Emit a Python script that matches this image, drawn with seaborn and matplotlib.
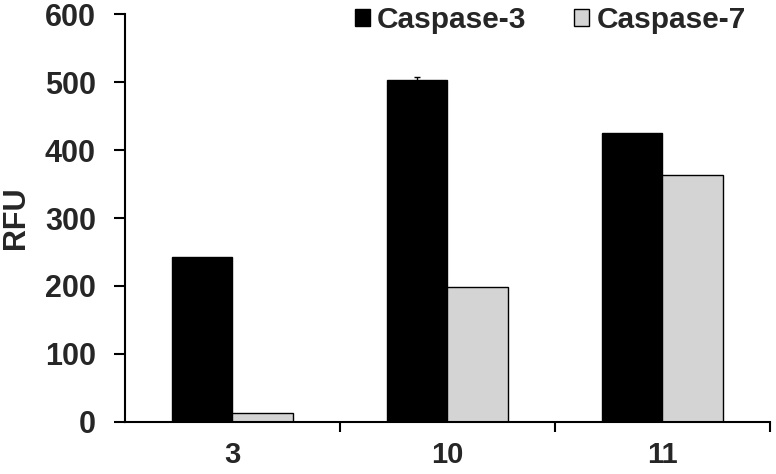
import numpy as np
import pandas as pd
import seaborn as sns
import matplotlib.pyplot as plt

# Data
categories = ["3", "10", "11"]
caspase3 = [242, 503, 425]
caspase7 = [13, 198, 363]
caspase3_err = [0, 4, 0]
caspase7_err = [0, 0, 0]

df = pd.DataFrame({
    "compound": categories * 2,
    "RFU": caspase3 + caspase7,
    "enzyme": ["Caspase-3"] * 3 + ["Caspase-7"] * 3,
})

sns.set_style("white")
plt.rcParams["font.family"] = ["Liberation Sans", "DejaVu Sans"]
plt.rcParams["font.weight"] = "bold"

fig = plt.figure(figsize=(7.76, 4.74), dpi=100)
ax = fig.add_axes([0.161, 0.110, 0.831, 0.860])

sns.barplot(data=df, x="compound", y="RFU", hue="enzyme", ax=ax,
            palette=["#000000", "#d4d4d4"], width=0.56, errorbar=None,
            edgecolor="black", linewidth=1.0, saturation=1)

# error bars
errs = caspase3_err + caspase7_err
vals = caspase3 + caspase7
for patch, v, e in zip(ax.patches[:6], vals, errs):
    if e > 0:
        xc = patch.get_x() + patch.get_width() / 2
        ax.errorbar(xc, v, yerr=e, color="black", capsize=2, lw=1, capthick=1)

ax.set_xlim(-0.5, 2.5)
ax.set_ylim(0, 600)
ax.set_yticks(np.arange(0, 601, 100))

for s in ["top", "right"]:
    ax.spines[s].set_visible(False)
for s in ["left", "bottom"]:
    ax.spines[s].set_linewidth(1.5)
    ax.spines[s].set_color("black")

# labels at category centers, tick marks at boundaries
ax.set_xticks(range(3))
ax.set_xticklabels(categories)
ax.tick_params(axis="x", which="major", length=0, pad=14, labelsize=21)
ax.set_xticks([0.5, 1.5, 2.5], minor=True)
ax.tick_params(axis="x", which="minor", length=7, width=1.5, color="black",
               direction="out", bottom=True)
ax.tick_params(axis="y", length=8, width=1.5, color="black", direction="out",
               pad=13, labelsize=22, left=True)
for lab in ax.get_xticklabels() + ax.get_yticklabels():
    lab.set_fontweight("bold")

ax.set_xlabel("")
ax.set_ylabel("RFU", fontsize=22, fontweight="bold")
ax.yaxis.set_label_coords(-0.145, 0.5)

ax.legend(loc="upper right", bbox_to_anchor=(1.005, 1.085), ncol=2, frameon=False,
          prop={"size": 21.5, "weight": "bold"}, handlelength=0.5,
          handleheight=0.5, handletextpad=0.25, columnspacing=1.6)

fig.savefig("out.png", dpi=100)
